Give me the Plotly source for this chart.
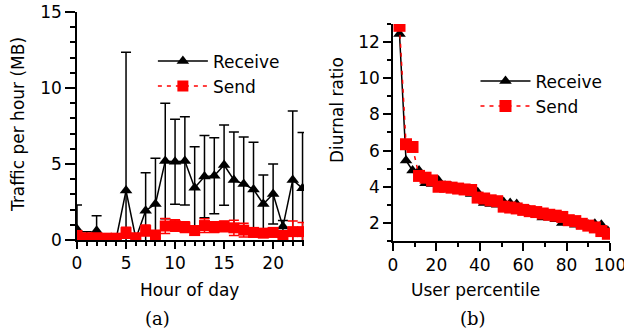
import plotly.graph_objects as go

# ---- (a) hourly traffic ----
hours = list(range(24))
recv_mb = [0.7, 0.15, 0.6, 0.1, 0.1, 3.25, 0.1, 1.93, 2.37, 5.2, 5.15, 5.2,
           3.44, 4.17, 4.23, 4.93, 3.95, 3.68, 3.33, 2.37, 3.03, 0.88, 3.95, 3.4]
recv_err = [1.6, 0.4, 1.0, 0.1, 0.1, 9.1, 0.1, 2.5, 3.0, 3.8, 2.8, 2.9,
            2.7, 2.7, 2.5, 2.64, 3.15, 3.1, 3.1, 1.9, 1.97, 0.4, 4.54, 3.68]
send_mb = [0.3, 0.15, 0.15, 0.12, 0.12, 0.48, 0.15, 0.62, 0.33, 0.92, 0.95, 0.85,
           0.62, 0.95, 0.85, 0.9, 0.8, 0.65, 0.5, 0.45, 0.5, 0.3, 0.55, 0.55]
send_err = [0.2, 0.1, 0.1, 0.1, 0.1, 0.36, 0.1, 0.36, 0.2, 0.5, 0.38, 0.35,
            0.3, 0.45, 0.35, 0.35, 0.5, 0.45, 0.3, 0.25, 0.3, 0.2, 0.7, 0.6]

# ---- (b) diurnal ratio per user percentile ----
pct = list(range(3, 100, 3))
ratio_recv = [12.45, 5.45, 4.9, 4.9, 4.2, 4.15, 4.35, 4.05, 4.0, 3.9, 3.85, 3.6,
              3.7, 3.1, 3.05, 3.0, 3.15, 3.1, 3.05, 2.75, 2.7, 2.6, 2.3, 2.3,
              2.2, 2.0, 2.0, 1.9, 1.85, 1.9, 1.95, 1.9, 1.55]
ratio_send = [12.9, 6.35, 6.2, 4.6, 4.5, 4.35, 4.0, 4.0, 3.95, 3.9, 3.85, 3.82,
              3.4, 3.35, 3.25, 3.2, 2.9, 2.85, 2.8, 2.72, 2.65, 2.6, 2.52, 2.45,
              2.4, 2.33, 2.15, 2.1, 1.95, 1.85, 1.75, 1.55, 1.4]

FONT = "DejaVu Sans"
BLACK = "#000000"
RED = "#ff0000"

fig = go.Figure()

fig.add_trace(go.Scatter(
    x=hours, y=recv_mb, name="Receive", mode="lines+markers",
    line=dict(color=BLACK, width=1.5),
    marker=dict(symbol="triangle-up", size=11, color=BLACK),
    error_y=dict(type="data", array=recv_err, symmetric=True,
                 color=BLACK, thickness=1.5, width=5),
    xaxis="x", yaxis="y", legend="legend"))
fig.add_trace(go.Scatter(
    x=hours, y=send_mb, name="Send", mode="lines+markers",
    line=dict(color=RED, width=1.5, dash="4px,5px"),
    marker=dict(symbol="square", size=11, color=RED),
    error_y=dict(type="data", array=send_err, symmetric=True,
                 color=RED, thickness=1.5, width=5),
    xaxis="x", yaxis="y", legend="legend"))

fig.add_trace(go.Scatter(
    x=pct, y=ratio_recv, name="Receive", mode="lines+markers",
    line=dict(color=BLACK, width=1.5),
    marker=dict(symbol="triangle-up", size=11, color=BLACK),
    xaxis="x2", yaxis="y2", legend="legend2"))
fig.add_trace(go.Scatter(
    x=pct, y=ratio_send, name="Send", mode="lines+markers",
    line=dict(color=RED, width=1.5, dash="4px,5px"),
    marker=dict(symbol="square", size=12, color=RED),
    xaxis="x2", yaxis="y2", legend="legend2"))

tickfont = dict(family=FONT, size=17, color=BLACK)
common = dict(showgrid=False, zeroline=False, showline=True, linecolor=BLACK,
              linewidth=1.5, ticks="outside", tickcolor=BLACK, tickwidth=1.5,
              tickfont=tickfont, automargin=False, ticklabeloverflow="allow")

fig.update_layout(
    width=624, height=333,
    margin=dict(l=0, r=0, t=0, b=0),
    paper_bgcolor="white", plot_bgcolor="white",
    font=dict(family=FONT, size=17, color=BLACK),
    xaxis=dict(domain=[0.1234, 0.4872], range=[0, 23.15], anchor="y",
               tickvals=[0, 5, 10, 15, 20], ticklen=7,
               minor=dict(dtick=1, tick0=0, ticks="outside", ticklen=4,
                          tickcolor=BLACK, tickwidth=1.5), **common),
    yaxis=dict(domain=[0.2793, 0.964], range=[0, 15], anchor="x",
               tickvals=[0, 5, 10, 15], ticklen=10,
               minor=dict(dtick=1, tick0=0, ticks="outside", ticklen=5,
                          tickcolor=BLACK, tickwidth=1.5), **common),
    xaxis2=dict(domain=[0.6298, 0.9776], range=[0, 100], anchor="y2",
                tickvals=[0, 20, 40, 60, 80, 100], ticklen=8,
                minor=dict(dtick=10, tick0=0, ticks="outside", ticklen=4,
                           tickcolor=BLACK, tickwidth=1.5), **common),
    yaxis2=dict(domain=[0.2763, 0.9279], range=[1, 13], anchor="x2",
                tickvals=[2, 4, 6, 8, 10, 12], ticklen=8,
                minor=dict(dtick=1, tick0=1, ticks="outside", ticklen=4,
                           tickcolor=BLACK, tickwidth=1.5), **common),
    legend=dict(x=0.245, y=0.778, xanchor="left", yanchor="middle",
                bgcolor="rgba(0,0,0,0)", font=dict(family=FONT, size=17),
                itemwidth=50, tracegroupgap=0),
    legend2=dict(x=0.762, y=0.718, xanchor="left", yanchor="middle",
                 bgcolor="rgba(0,0,0,0)", font=dict(family=FONT, size=17),
                 itemwidth=50, tracegroupgap=0),
    showlegend=True,
)

annotations = [
    dict(text="Traffic per hour (MB)", x=18, y=125, textangle=-90),
    dict(text="Hour of day", x=190, y=290),
    dict(text="Diurnal ratio", x=337, y=110, textangle=-90),
    dict(text="User percentile", x=475, y=290),
]
for a in annotations:
    fig.add_annotation(text=a["text"], x=a["x"] / 624, y=1 - a["y"] / 333,
                       xref="paper", yref="paper", showarrow=False,
                       textangle=a.get("textangle", 0),
                       xanchor="center", yanchor="middle",
                       font=dict(family=FONT, size=17, color=BLACK))

for label, xc in [("(a)", 157), ("(b)", 473)]:
    fig.add_annotation(text=label, x=xc / 624, y=1 - 318 / 333,
                       xref="paper", yref="paper", showarrow=False,
                       xanchor="center", yanchor="middle",
                       font=dict(family="DejaVu Serif", size=18, color=BLACK))

fig.write_html("out.html")
